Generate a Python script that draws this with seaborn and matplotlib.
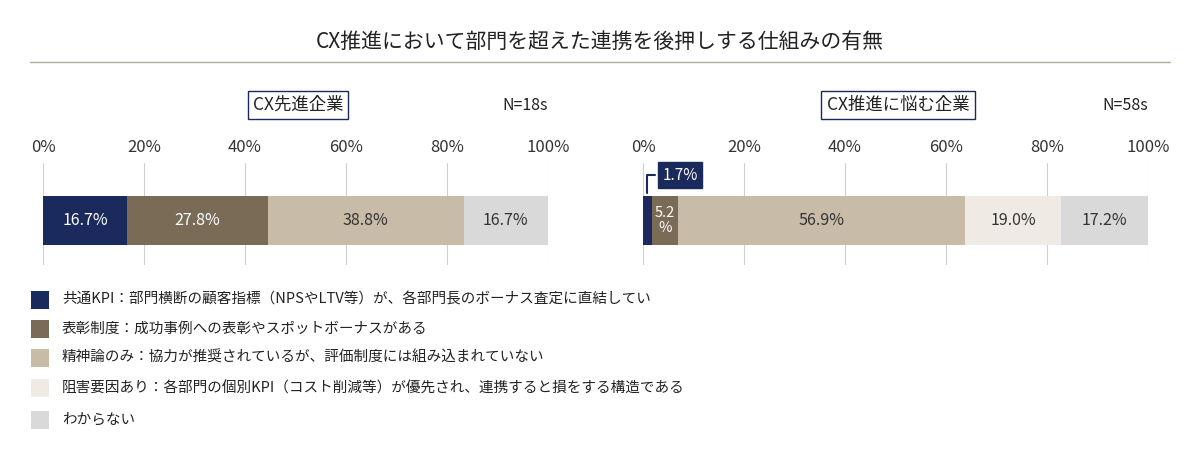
import matplotlib
matplotlib.use("Agg")
import matplotlib.pyplot as plt
import seaborn as sns
import pandas as pd
from matplotlib.patches import Rectangle

sns.set_theme(style="white")
plt.rcParams['font.family'] = ['Noto Sans CJK JP', 'DejaVu Sans']

title = "CX推進において部門を超えた連携を後押しする仕組みの有無"
categories = ["共通KPI：部門横断の顧客指標（NPSやLTV等）が、各部門長のボーナス査定に直結してい",
              "表彰制度：成功事例への表彰やスポットボーナスがある",
              "精神論のみ：協力が推奨されているが、評価制度には組み込まれていない",
              "阻害要因あり：各部門の個別KPI（コスト削減等）が優先され、連携すると損をする構造である",
              "わからない"]
colors = ["#1b2a5c", "#7a6b57", "#c8bca8", "#efebe4", "#d9d9d9"]
text_colors = ["white", "white", "#333333", "#333333", "#333333"]
panels = ["CX先進企業", "CX推進に悩む企業"]
n_labels = ["N=18s", "N=58s"]
values_adv = [16.7, 27.8, 38.8, 0.0, 16.7]
values_str = [1.7, 5.2, 56.9, 19.0, 17.2]
ticks = [0, 20, 40, 60, 80, 100]

fig = plt.figure(figsize=(12, 4.61), dpi=100)
fig.text(0.5, 1 - 42/461, title, ha="center", va="center", fontsize=15, color="#222222")
fig.add_artist(plt.Line2D([30/1200, 1170/1200], [1 - 62/461]*2, color="#b5aa95", lw=1))

lefts = [43/1200, 643/1200]
for pi, (vals, left) in enumerate(zip([values_adv, values_str], lefts)):
    ax = fig.add_axes([left, 1 - 265/461, 505/1200, 102/461])
    ends = pd.Series(vals).cumsum().tolist()
    for i in reversed(range(len(vals))):
        if vals[i] <= 0:
            continue
        df = pd.DataFrame({"x": [ends[i]], "y": ["a"]})
        sns.barplot(data=df, x="x", y="y", orient="h", color=colors[i], width=0.8,
                    saturation=1, ax=ax, linewidth=0)
    ax.set_ylim(-0.727, 0.94)
    ax.set_xlim(0, 100)
    ax.set_xticks(ticks)
    ax.set_xticklabels([f"{t}%" for t in ticks], fontsize=12, color="#333333")
    ax.xaxis.tick_top()
    ax.tick_params(axis="x", length=0, pad=5)
    ax.set_yticks([]); ax.set_xlabel(""); ax.set_ylabel("")
    for s in ax.spines.values():
        s.set_visible(False)
    ax.grid(False)
    for t in ticks:
        ax.axvline(t, color="#cfcfcf", lw=0.8, zorder=0)
    starts = [e - v for e, v in zip(ends, vals)]
    for i, v in enumerate(vals):
        if v <= 0:
            continue
        c = starts[i] + v / 2
        if v < 3:
            ax.annotate(f"{v}%", xy=(c, 0.4), xytext=(c + 6.5, 0.74),
                        ha="center", va="center", color="white", fontsize=11,
                        bbox=dict(boxstyle="square,pad=0.3", fc=colors[i], ec=colors[i]),
                        arrowprops=dict(arrowstyle="-", color=colors[i], lw=1.5,
                                        connectionstyle="angle,angleA=0,angleB=90,rad=0"))
        elif v < 8:
            ax.text(c, 0, f"{v}\n%", ha="center", va="center", color=text_colors[i],
                    fontsize=10.5, linespacing=1.1)
        else:
            ax.text(c, 0, f"{v}%", ha="center", va="center", color=text_colors[i], fontsize=11.5)
    cx = left + 255/1200
    fig.text(cx, 1 - 105/461, panels[pi], ha="center", va="center", fontsize=12.5, color="#222222",
             bbox=dict(boxstyle="square,pad=0.3", fc="white", ec="#1b2a5c", lw=1))
    fig.text(left + 505/1200, 1 - 105/461, n_labels[pi], ha="right", va="center",
             fontsize=11.5, color="#222222")

ys = [300, 329, 358, 388, 420]
for cat, col, y in zip(categories, colors, ys):
    fig.add_artist(Rectangle((31/1200, 1 - (y + 9)/461), 18/1200, 18/461, transform=fig.transFigure,
                             fc=col, ec="none"))
    fig.text(62/1200, 1 - y/461, cat, ha="left", va="center", fontsize=10.5, color="#222222")

fig.savefig("out.png", dpi=100)
